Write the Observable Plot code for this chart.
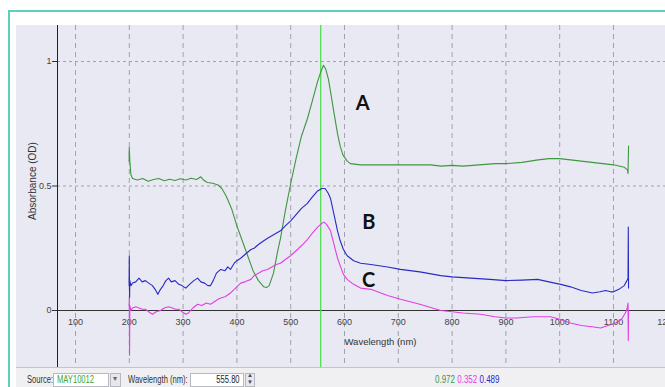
<!DOCTYPE html>
<html>
<head>
<meta charset="utf-8">
<script src="https://cdn.jsdelivr.net/npm/d3@7"></script>
<script src="https://cdn.jsdelivr.net/npm/@observablehq/plot@0.6"></script>
<style>
  html, body { margin: 0; padding: 0; background: #fff; }
  body { width: 665px; height: 387px; overflow: hidden; position: relative; font-family: "Liberation Sans", Arial, sans-serif; }
  #frame { position: absolute; left: 8px; top: 10px; width: 680px; height: 400px; border-left: 2px solid #5ccfbd; border-top: 2px solid #5ccfbd; }
  #chart { position: absolute; left: 16px; top: 25px; width: 649px; height: 342px; background: #e9e9f3; overflow: hidden; }
  #chart svg { display: block; }
  #toolbar { position: absolute; left: 16px; top: 367px; width: 649px; height: 20px; background: #f0f0f2; border-top: 1px solid #c4c4cc; font-size: 10px; color: #333; }
  #toolbar .t { position: absolute; top: 6px; white-space: nowrap; transform: scaleX(0.76); transform-origin: 0 0; }
  #toolbar .box { position: absolute; top: 5px; height: 14px; background: #fff; border: 1px solid #b8b8c0; box-sizing: border-box; }
  #toolbar .in { position: absolute; top: 0px; white-space: nowrap; transform: scaleX(0.76); }
</style>
</head>
<body>
<div id="frame"></div>
<div id="chart"></div>
<div id="toolbar"></div>
<script>
// ---- data ----
const xTicks = [100, 200, 300, 400, 500, 600, 700, 800, 900, 1000, 1100, 1200];
const yTicks = [0, 0.5, 1];
const yTickLabels = ["0", "0.5", "1"];
const cursorNm = [555.8];
const readout = ["0.972", "0.352", "0.489"];
const seriesNames = ["A", "B", "C"];
const seriesColors = ["#3f973f", "#2a2ac4", "#e33fe3"];

const nmA = [199.6, 200, 201, 203, 206, 215, 225, 235, 245, 255, 265, 275, 285, 295, 305, 315, 325, 333, 338, 345, 355, 365, 372, 380, 390, 400, 410, 420, 430, 440, 450, 455, 460, 468, 475, 481, 490, 500, 510, 520, 531, 540, 550, 557, 561, 565, 570, 574, 580, 587, 592, 597, 605, 611, 630, 700, 760, 780, 800, 820, 850, 880, 900, 930, 960, 980, 1000, 1020, 1040, 1060, 1080, 1100, 1120, 1126, 1127, 1128];
const odA = [0.60, 0.655, 0.60, 0.545, 0.53, 0.524, 0.53, 0.519, 0.526, 0.53, 0.521, 0.527, 0.522, 0.529, 0.524, 0.531, 0.526, 0.537, 0.524, 0.514, 0.511, 0.504, 0.49, 0.46, 0.41, 0.34, 0.28, 0.22, 0.16, 0.12, 0.095, 0.092, 0.10, 0.15, 0.23, 0.29, 0.40, 0.51, 0.61, 0.70, 0.77, 0.84, 0.92, 0.965, 0.985, 0.97, 0.93, 0.88, 0.80, 0.71, 0.66, 0.625, 0.60, 0.59, 0.585, 0.585, 0.585, 0.58, 0.583, 0.58, 0.585, 0.59, 0.59, 0.595, 0.605, 0.61, 0.61, 0.605, 0.60, 0.595, 0.59, 0.585, 0.575, 0.565, 0.55, 0.66];

const nmB = [199.6, 200, 200.5, 201, 203, 206, 212, 218, 224, 230, 236, 243, 248, 253, 258, 263, 268, 273, 278, 285, 292, 298, 305, 312, 320, 327, 333, 340, 346, 351, 356, 362, 370, 378, 383, 388, 395, 400, 407, 415, 426, 432, 440, 450, 457, 465, 473, 481, 490, 500, 510, 520, 531, 540, 550, 558, 564, 570, 574, 580, 587, 592, 598, 605, 617, 630, 649, 680, 704, 740, 779, 800, 835, 870, 900, 930, 959, 980, 1002, 1020, 1040, 1061, 1075, 1085, 1095, 1100, 1110, 1120, 1125, 1127, 1127.5, 1128];
const odB = [0.10, 0.22, 0.05, 0.12, 0.10, 0.11, 0.115, 0.13, 0.115, 0.12, 0.11, 0.10, 0.085, 0.065, 0.085, 0.10, 0.12, 0.13, 0.115, 0.12, 0.105, 0.10, 0.09, 0.105, 0.12, 0.13, 0.115, 0.11, 0.10, 0.10, 0.12, 0.15, 0.165, 0.16, 0.175, 0.165, 0.19, 0.20, 0.21, 0.225, 0.245, 0.25, 0.265, 0.28, 0.29, 0.30, 0.31, 0.32, 0.34, 0.36, 0.385, 0.41, 0.43, 0.455, 0.48, 0.49, 0.49, 0.47, 0.45, 0.39, 0.32, 0.28, 0.245, 0.22, 0.20, 0.19, 0.185, 0.175, 0.165, 0.155, 0.14, 0.135, 0.13, 0.125, 0.12, 0.122, 0.125, 0.115, 0.105, 0.095, 0.08, 0.07, 0.075, 0.08, 0.075, 0.075, 0.085, 0.10, 0.12, 0.13, 0.335, 0.09];

const nmC = [199.6, 200, 200.5, 201, 203, 206, 212, 218, 224, 230, 236, 243, 250, 258, 265, 273, 280, 286, 292, 298, 305, 310, 318, 327, 335, 343, 351, 358, 365, 370, 378, 388, 395, 400, 407, 415, 426, 432, 440, 448, 457, 465, 473, 481, 490, 500, 510, 520, 531, 540, 550, 558, 562, 567, 574, 580, 587, 592, 598, 605, 617, 630, 649, 680, 704, 740, 779, 800, 820, 853, 880, 900, 920, 950, 983, 1000, 1020, 1040, 1060, 1076, 1090, 1104, 1115, 1122, 1125, 1127, 1127.5, 1128];
const odC = [0.02, 0.05, -0.18, 0.02, 0.0, 0.01, 0.015, 0.01, 0.005, 0.005, -0.005, -0.015, -0.005, 0.0, 0.01, 0.015, 0.01, 0.005, 0.005, -0.005, -0.015, -0.01, 0.01, 0.025, 0.02, 0.03, 0.025, 0.035, 0.045, 0.05, 0.055, 0.07, 0.085, 0.095, 0.11, 0.115, 0.125, 0.14, 0.15, 0.16, 0.165, 0.175, 0.185, 0.19, 0.205, 0.22, 0.24, 0.26, 0.285, 0.31, 0.335, 0.35, 0.355, 0.345, 0.32, 0.27, 0.21, 0.18, 0.145, 0.125, 0.105, 0.09, 0.085, 0.06, 0.045, 0.025, 0.0, -0.005, -0.01, -0.015, -0.025, -0.03, -0.03, -0.025, -0.025, -0.035, -0.05, -0.06, -0.065, -0.07, -0.06, -0.05, -0.035, -0.01, 0.005, 0.03, -0.12, 0.0];

const labelNm = [634, 645, 645];
const labelOd = [0.83, 0.355, 0.12];
const yTitle = "Absorbance (OD)";
const yTitleOd = 0.52;
const xTitle = "Wavelength (nm)";
const xTitleNm = 600;

// ---- build ----
const toRows = (nm, od, s) => nm.map((x, i) => ({nm: x, od: od[i], s}));
const rows = [
  ...toRows(nmA, odA, "A"),
  ...toRows(nmB, odB, "B"),
  ...toRows(nmC, odC, "C")
];
const labels = seriesNames.map((s, i) => ({s, nm: labelNm[i], od: labelOd[i]}));
const colorOf = Object.fromEntries(seriesNames.map((s, i) => [s, seriesColors[i]]));

const W = 649, ML = 41;
const grid = "#a2a2aa";
const plot = Plot.plot({
  width: W,
  height: 342,
  marginLeft: ML,
  marginRight: 0,
  marginTop: 0,
  marginBottom: 0,
  style: {background: "transparent", overflow: "hidden", fontFamily: "'Liberation Sans', Arial, sans-serif", fontSize: "9px", color: "#444"},
  x: {domain: [0, 1200], range: [5.2, 650.8], axis: null},
  y: {domain: [0, 1], range: [285, 36], axis: null},
  marks: [
    Plot.ruleX(xTicks, {stroke: grid, strokeDasharray: "5,4", strokeWidth: 1}),
    Plot.ruleY([0.5, 1], {stroke: grid, strokeDasharray: "3,3", strokeWidth: 1}),
    Plot.ruleY([0], {stroke: "#333", strokeWidth: 1, insetLeft: -4}),
    Plot.frame({anchor: "left", stroke: "#222"}),
    Plot.ruleY(yTicks, {stroke: "#333", insetLeft: -5, insetRight: W - ML}),
    Plot.text(yTicks, {y: d => d, frameAnchor: "left", dx: -6, textAnchor: "end", text: (d, i) => yTickLabels[i], fill: "#444", fontSize: 9}),
    Plot.text(xTicks, {x: d => d, y: 0, dy: 12, text: d => String(d), fill: "#444", fontSize: 9}),
    Plot.text([xTitle], {x: xTitleNm, y: 0, dy: 31, textAnchor: "start", fill: "#333", fontSize: 9.5}),
    Plot.text([yTitle], {y: () => yTitleOd, frameAnchor: "left", dx: -25, rotate: -90, textAnchor: "middle", fill: "#333", fontSize: 10}),
    Plot.ruleX(cursorNm, {stroke: "#44dd44", strokeWidth: 1.2}),
    Plot.line(rows, {x: "nm", y: "od", z: "s", stroke: d => colorOf[d.s], strokeWidth: 1.1}),
    Plot.text(labels, {x: "nm", y: "od", text: "s", fill: "#111", fontSize: 20, fontWeight: "bold", fontFamily: "Lato, 'Open Sans', sans-serif"})
  ]
});
document.getElementById("chart").appendChild(plot);

// ---- toolbar ----
const tb = document.getElementById("toolbar");
function add(html) { tb.insertAdjacentHTML("beforeend", html); }
add(`<span class="t" style="left:11px">Source:</span>`);
add(`<div class="box" style="left:37px;width:56px"><span class="in" style="left:3px;color:#3aa83a;transform-origin:0 0">MAY10012</span></div>`);
add(`<div class="box" style="left:94px;width:11px;background:#e8e8ec"><span style="position:absolute;left:2px;top:0px;font-size:8px;color:#666">▾</span></div>`);
add(`<span class="t" style="left:112px">Wavelength (nm):</span>`);
add(`<div class="box" style="left:174px;width:54px"><span class="in" style="right:3px;color:#222;transform-origin:100% 0">555.80</span></div>`);
add(`<div class="box" style="left:229px;width:10px;background:#e8e8ec"><span style="position:absolute;left:1px;top:-2px;font-size:6px;color:#446;line-height:7px">▲<br>▼</span></div>`);
add(`<span class="t" style="left:419px;transform:scaleX(0.8)"><span style="color:${seriesColors[0]}">${readout[0]}</span> <span style="color:${seriesColors[2]}">${readout[1]}</span> <span style="color:${seriesColors[1]}">${readout[2]}</span></span>`);
</script>
</body>
</html>
